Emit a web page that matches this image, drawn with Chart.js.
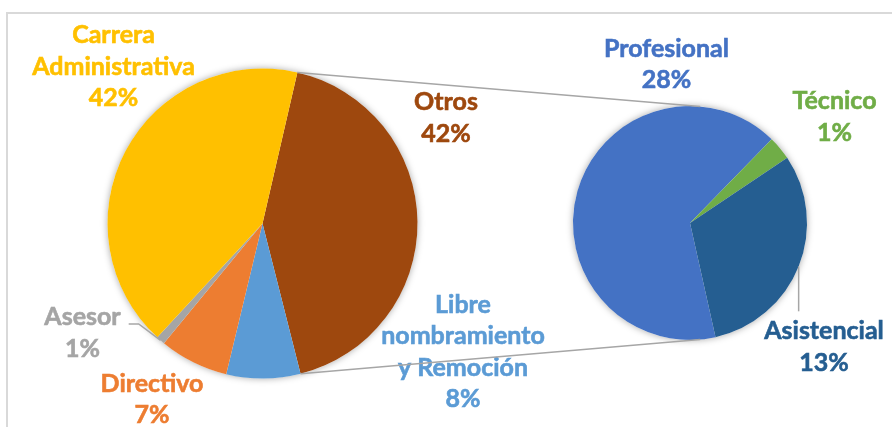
<!DOCTYPE html>
<html>
<head>
<meta charset="utf-8">
<script src="https://cdn.jsdelivr.net/npm/chart.js@4.4.0/dist/chart.umd.min.js"></script>
<style>
    html, body { margin: 0; padding: 0; background: #fff; overflow: hidden; }
    #wrap { position: relative; width: 892px; height: 427px; overflow: hidden; }
    #frame { position: absolute; left: 6px; top: 12px; width: 1000px; height: 1000px; border: 2px solid #d9d9d9; box-sizing: border-box; }
    canvas { position: absolute; left: 0; top: 0; }
</style>
</head>
<body>
<div id="wrap">
    <div id="frame"></div>
    <canvas id="pieMain" width="892" height="427"></canvas>
    <canvas id="pieSub" width="892" height="427"></canvas>
</div>
<script>
// pie principal, en sentido horario empezando por "Otros"
const mainLabels = [['Otros'], ['Libre', 'nombramiento', 'y Remoción'], ['Directivo'], ['Asesor'], ['Carrera', 'Administrativa']];
const mainValues = [42.4, 7.7, 7.2, 0.9, 41.7];
const mainColors = ['#9E480E', '#5B9BD5', '#ED7D31', '#A5A5A5', '#FFC000'];

// desglose de "Otros"
const subLabels = [['Profesional'], ['Técnico'], ['Asistencial']];
const subValues = [27.9, 1.4, 13.1];
const subColors = ['#4472C4', '#70AD47', '#255E91'];

// posicion de las etiquetas (relativa al centro del pie, primera linea base)
const mainLabelOffsets = [[183.5, -113.5], [200.5, 89], [-110.5, 168], [-180, 101.5], [-149, -180.5]];
const subLabelOffsets = [[-23.5, -166.3], [144.5, -114], [134, 116.3]];
const mainLeaders = [null, null, null, 'elbow', null];
const subLeaders = [null, null, 'vertical'];

const LINE = 31.5;
const FONT = 'bold 25px Lato';
const total = mainValues.reduce((a, b) => a + b, 0);

function pct(v) {
    return Math.round(v / total * 100) + '%';
}

const shadowPlugin = {
    id: 'shadow',
    beforeDatasetsDraw(chart) {
        const a = chart.getDatasetMeta(0).data[0];
        const ctx = chart.ctx;
        ctx.save();
        ctx.shadowColor = 'rgba(0,0,0,0.35)';
        ctx.shadowBlur = 7;
        ctx.fillStyle = '#fff';
        ctx.beginPath();
        ctx.arc(a.x, a.y, a.outerRadius, 0, Math.PI * 2);
        ctx.fill();
        ctx.restore();
    }
};

const labelPlugin = {
    id: 'sliceLabels',
    afterDatasetsDraw(chart, args, opts) {
        const ctx = chart.ctx;
        const arcs = chart.getDatasetMeta(0).data;
        ctx.save();
        ctx.font = FONT;
        ctx.textAlign = 'center';
        ctx.textBaseline = 'alphabetic';
        opts.names.forEach((lines, i) => {
            const a = arcs[i];
            const [dx, dy] = opts.offsets[i];
            const x = a.x + dx;
            const y = a.y + dy;
            const all = lines.concat(pct(opts.values[i]));
            ctx.fillStyle = opts.colors[i];
            ctx.strokeStyle = opts.colors[i];
            ctx.lineWidth = 0.6;
            all.forEach((t, k) => {
                ctx.fillText(t, x, y + k * LINE);
                ctx.strokeText(t, x, y + k * LINE);
            });

            // lineas guia
            const mid = (a.startAngle + a.endAngle) / 2;
            const px = a.x + Math.cos(mid) * a.outerRadius;
            const py = a.y + Math.sin(mid) * a.outerRadius;
            ctx.strokeStyle = '#a6a6a6';
            ctx.lineWidth = 1.5;
            if (opts.leaders[i] === 'elbow') {
                const w = ctx.measureText(lines[0]).width;
                const sx = x + w / 2 + 8;
                const sy = y - 1;
                ctx.beginPath();
                ctx.moveTo(sx, sy);
                ctx.lineTo(sx + 10, sy);
                ctx.lineTo(px, py);
                ctx.stroke();
            } else if (opts.leaders[i] === 'vertical') {
                ctx.beginPath();
                ctx.moveTo(px, py);
                ctx.lineTo(px, y - 28);
                ctx.stroke();
            }
        });
        ctx.restore();
    }
};

let mainChart;

const connectorPlugin = {
    id: 'connector',
    afterDraw(chart) {
        const otros = mainChart.getDatasetMeta(0).data[0];
        const sub = chart.getDatasetMeta(0).data[0];
        const ctx = chart.ctx;
        const tilt = 5 * Math.PI / 180;
        const top = [sub.x + Math.sin(tilt) * sub.outerRadius, sub.y - Math.cos(tilt) * sub.outerRadius];
        const bot = [sub.x + Math.sin(tilt) * sub.outerRadius, sub.y + Math.cos(tilt) * sub.outerRadius];
        const s = [otros.x + Math.cos(otros.startAngle) * otros.outerRadius, otros.y + Math.sin(otros.startAngle) * otros.outerRadius];
        const e = [otros.x + Math.cos(otros.endAngle) * otros.outerRadius, otros.y + Math.sin(otros.endAngle) * otros.outerRadius];
        ctx.save();
        ctx.strokeStyle = '#a6a6a6';
        ctx.lineWidth = 1.5;
        ctx.beginPath();
        ctx.moveTo(s[0], s[1]);
        ctx.lineTo(top[0], top[1]);
        ctx.moveTo(e[0], e[1]);
        ctx.lineTo(bot[0], bot[1]);
        ctx.stroke();
        ctx.restore();
    }
};

function pieConfig(labels, values, colors, rotation, radius, padding, labelOpts) {
    return {
        type: 'pie',
        data: {
            labels: labels.map(l => l.join(' ')),
            datasets: [{
                data: values,
                backgroundColor: colors,
                borderWidth: 0,
                hoverOffset: 0
            }]
        },
        options: {
            responsive: false,
            animation: false,
            events: [],
            devicePixelRatio: 1,
            rotation: rotation,
            radius: radius,
            layout: {padding: padding},
            plugins: {
                legend: {display: false},
                tooltip: {enabled: false},
                sliceLabels: labelOpts
            }
        },
        plugins: [shadowPlugin, labelPlugin]
    };
}

function draw() {
    mainChart = new Chart(document.getElementById('pieMain'), pieConfig(
        mainLabels, mainValues, mainColors, 13, 155,
        {left: 107.5, right: 474.5, top: 68.5, bottom: 48.5},
        {names: mainLabels, values: mainValues, colors: mainColors, offsets: mainLabelOffsets, leaders: mainLeaders}
    ));

    const subCfg = pieConfig(
        subLabels, subValues, subColors, 167.4, 117,
        {left: 573, right: 85, top: 106, bottom: 87},
        {names: subLabels, values: subValues, colors: subColors, offsets: subLabelOffsets, leaders: subLeaders}
    );
    subCfg.plugins.push(connectorPlugin);
    new Chart(document.getElementById('pieSub'), subCfg);
}

if (document.fonts && document.fonts.load) {
    document.fonts.load(FONT).then(draw, draw);
} else {
    draw();
}
</script>
</body>
</html>
